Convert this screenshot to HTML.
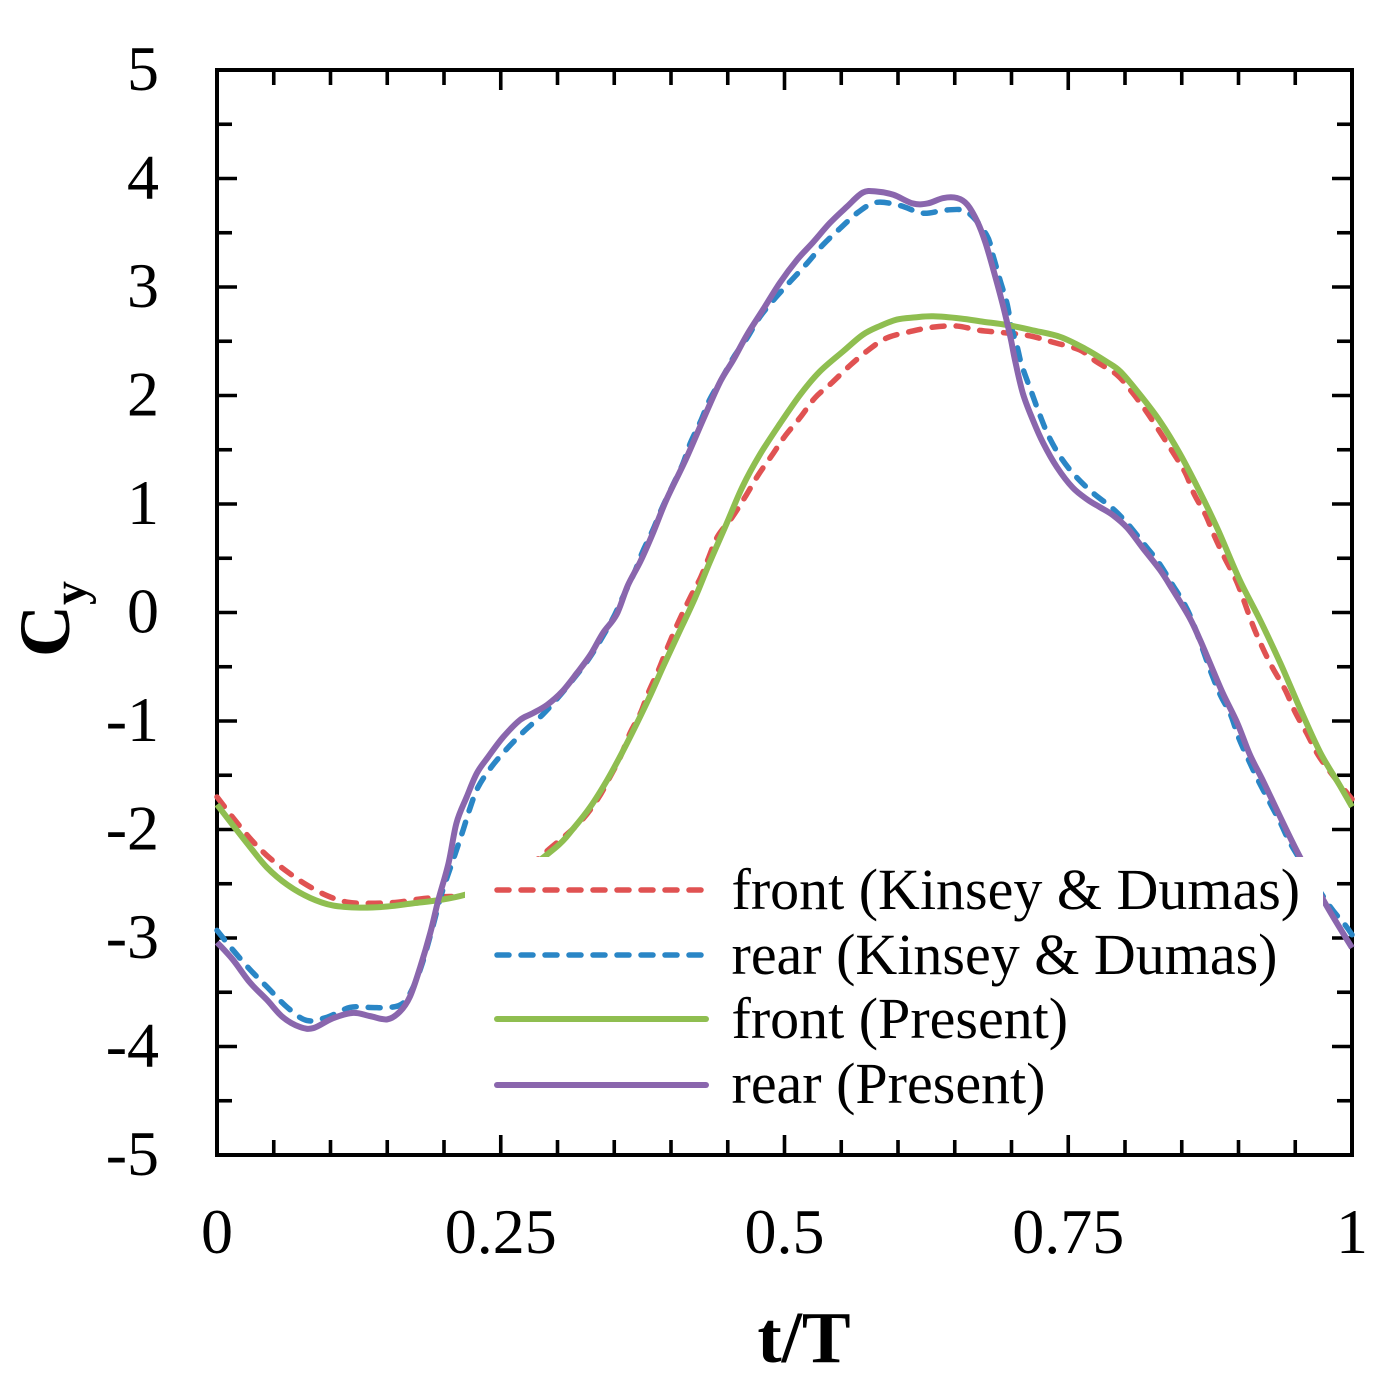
<!DOCTYPE html>
<html lang="en">
<head>
<meta charset="utf-8">
<title>Cy vs t/T</title>
<style>
html,body{margin:0;padding:0;background:#fff;width:1386px;height:1400px;overflow:hidden}
svg{display:block}
text{font-family:"Liberation Serif",serif;fill:#000}
</style>
</head>
<body>
<svg id="chart" width="1386" height="1400" viewBox="0 0 1386 1400" xmlns="http://www.w3.org/2000/svg">
  <g id="ticks"></g>
  <rect x="217" y="70" width="1135" height="1085" fill="none" stroke="#000" stroke-width="4"></rect>
  <g id="tick-labels"></g>
  <g id="series"></g>
  <rect x="465" y="857" width="858" height="268" fill="#fff"></rect>
  <g>
    <g>
      <line x1="497" y1="890" x2="706" y2="890" stroke="#e05252" stroke-width="5.5" stroke-linecap="round" stroke-dasharray="12 12"></line>
      <text x="731.5" y="909" font-size="58">front (Kinsey &amp; Dumas)</text>
    </g>
    <g>
      <line x1="497" y1="955" x2="706" y2="955" stroke="#2a86c6" stroke-width="5.5" stroke-linecap="round" stroke-dasharray="12 12"></line>
      <text x="731.5" y="974" font-size="58">rear (Kinsey &amp; Dumas)</text>
    </g>
    <g>
      <line x1="497" y1="1019" x2="706" y2="1019" stroke="#8fbe50" stroke-width="6" stroke-linecap="round"></line>
      <text x="731.5" y="1038" font-size="58">front (Present)</text>
    </g>
    <g>
      <line x1="497" y1="1085" x2="706" y2="1085" stroke="#8a66ad" stroke-width="6" stroke-linecap="round"></line>
      <text x="731.5" y="1103" font-size="58">rear (Present)</text>
    </g>
  </g>
  <text x="804" y="1362" font-size="73" font-weight="bold" text-anchor="middle">t/T</text>
  <g>
    <text transform="translate(69 657) rotate(-90)" font-size="72" font-weight="bold">C</text>
    <text transform="translate(86 605) rotate(-90)" font-size="48" font-weight="bold">y</text>
  </g>
</svg>
<script>
var xTickLabels = ["0", "0.25", "0.5", "0.75", "1"];
var xTickValues = [0, 0.25, 0.5, 0.75, 1];
var yTickLabels = ["5", "4", "3", "2", "1", "0", "-1", "-2", "-3", "-4", "-5"];
var yTickValues = [5, 4, 3, 2, 1, 0, -1, -2, -3, -4, -5];

var frontKinseyT = [0,.014,.029,.044,.062,.079,.097,.115,.135,.159,.179,.199,.219,.258,.295,.320,.336,.346,.355,.364,.373,.380,.389,.397,.406,.417,.426,.433,.441,.454,.465,.477,.489,.500,.514,.527,.542,.558,.574,.590,.611,.631,.652,.672,.692,.716,.737,.760,.775,.793,.807,.819,.831,.842,.853,.861,.871,.879,.888,.899,.912,.921,.930,.941,.950,.960,.970,.983,1];
var frontKinseyC = [-1.70,-1.89,-2.08,-2.24,-2.39,-2.51,-2.61,-2.67,-2.68,-2.67,-2.64,-2.62,-2.60,-2.47,-2.16,-1.93,-1.71,-1.52,-1.34,-1.11,-0.93,-0.74,-0.53,-0.32,-0.10,0.14,0.32,0.50,0.70,0.88,1.06,1.27,1.45,1.62,1.80,1.98,2.12,2.28,2.42,2.53,2.59,2.63,2.64,2.60,2.58,2.55,2.49,2.42,2.31,2.19,2.02,1.85,1.66,1.48,1.29,1.09,0.90,0.70,0.50,0.27,-0.10,-0.32,-0.51,-0.71,-0.92,-1.11,-1.31,-1.50,-1.72];

var rearKinseyT = [0,.014,.029,.044,.062,.079,.097,.117,.135,.152,.164,.173,.181,.190,.198,.210,.217,.223,.230,.242,.256,.271,.287,.300,.315,.330,.348,.357,.367,.375,.384,.392,.401,.410,.417,.426,.434,.445,.455,.467,.478,.492,.505,.520,.534,.549,.565,.581,.602,.622,.643,.661,.678,.684,.690,.696,.700,.705,.709,.718,.725,.733,.744,.757,.772,.789,.803,.816,.829,.841,.857,.875,.884,.893,.900,.908,.917,.928,.937,.948,.978,.994,1];
var rearKinseyC = [-2.93,-3.11,-3.29,-3.45,-3.64,-3.76,-3.73,-3.64,-3.64,-3.64,-3.60,-3.45,-3.23,-2.90,-2.59,-2.22,-2.00,-1.80,-1.61,-1.42,-1.25,-1.09,-0.94,-0.79,-0.60,-0.39,-0.07,0.13,0.35,0.56,0.76,0.96,1.16,1.36,1.56,1.76,1.96,2.16,2.35,2.53,2.72,2.90,3.05,3.22,3.39,3.54,3.69,3.78,3.75,3.68,3.71,3.69,3.48,3.28,3.06,2.85,2.63,2.45,2.28,2.02,1.82,1.62,1.42,1.25,1.10,0.96,0.81,0.64,0.47,0.27,-0.02,-0.53,-0.76,-0.94,-1.15,-1.34,-1.54,-1.76,-1.94,-2.17,-2.67,-2.88,-2.97];

var frontPresentT = [0,.014,.029,.044,.062,.082,.102,.126,.150,.173,.196,.219,.258,.298,.314,.329,.344,.357,.370,.381,.393,.405,.421,.434,.449,.463,.478,.496,.514,.531,.552,.569,.584,.599,.615,.631,.655,.675,.696,.719,.743,.765,.784,.796,.813,.831,.848,.866,.882,.901,.919,.937,.954,.972,.989,1];
var frontPresentC = [-1.77,-1.96,-2.16,-2.35,-2.51,-2.63,-2.70,-2.72,-2.71,-2.68,-2.65,-2.60,-2.47,-2.17,-1.99,-1.79,-1.54,-1.29,-1.02,-0.78,-0.50,-0.23,0.13,0.46,0.82,1.16,1.45,1.74,2.01,2.22,2.41,2.56,2.64,2.70,2.72,2.73,2.71,2.68,2.65,2.60,2.54,2.43,2.31,2.22,2.01,1.76,1.47,1.11,0.76,0.30,-0.07,-0.47,-0.88,-1.29,-1.59,-1.79];

var rearPresentT = [0,.014,.029,.044,.058,.073,.085,.102,.120,.135,.150,.161,.170,.179,.188,.195,.204,.211,.220,.229,.239,.252,.267,.278,.291,.304,.317,.329,.340,.352,.362,.373,.384,.396,.413,.428,.443,.455,.467,.481,.496,.511,.525,.540,.555,.569,.581,.596,.613,.626,.640,.652,.661,.670,.677,.684,.692,.699,.703,.710,.719,.728,.740,.754,.767,.778,.789,.802,.816,.831,.842,.857,.866,.875,.886,.899,.910,.922,.937,.954,.978,1];
var rearPresentC = [-3.04,-3.20,-3.41,-3.57,-3.73,-3.82,-3.83,-3.74,-3.69,-3.72,-3.75,-3.68,-3.54,-3.27,-2.95,-2.65,-2.31,-1.94,-1.70,-1.48,-1.33,-1.15,-0.99,-0.93,-0.85,-0.73,-0.56,-0.39,-0.19,-0.02,0.25,0.47,0.73,1.04,1.41,1.77,2.12,2.33,2.56,2.79,3.04,3.25,3.41,3.59,3.74,3.87,3.88,3.85,3.77,3.77,3.82,3.82,3.76,3.60,3.41,3.16,2.85,2.54,2.33,2.02,1.77,1.56,1.34,1.15,1.04,0.97,0.90,0.78,0.59,0.39,0.21,-0.05,-0.25,-0.47,-0.74,-1.02,-1.31,-1.56,-1.89,-2.25,-2.71,-3.09];

var NS = "http://www.w3.org/2000/svg";
var PLOT_LEFT = 217, PLOT_RIGHT = 1352, PLOT_TOP = 70, PLOT_BOTTOM = 1155;
function xScale(t) { return PLOT_LEFT + (PLOT_RIGHT - PLOT_LEFT) * t; }
function yScale(c) { return PLOT_TOP + (PLOT_BOTTOM - PLOT_TOP) * (5 - c) / 10; }

function smoothPath(ts, cs) {
  var p = ts.map(function (t, i) { return [xScale(t), yScale(cs[i])]; });
  var d = "M" + p[0][0].toFixed(2) + " " + p[0][1].toFixed(2);
  for (var i = 0; i < p.length - 1; i++) {
    var a = p[Math.max(i - 1, 0)], b = p[i], c = p[i + 1], e = p[Math.min(i + 2, p.length - 1)];
    var c1x = b[0] + (c[0] - a[0]) / 6, c1y = b[1] + (c[1] - a[1]) / 6;
    var c2x = c[0] - (e[0] - b[0]) / 6, c2y = c[1] - (e[1] - b[1]) / 6;
    d += "C" + c1x.toFixed(2) + " " + c1y.toFixed(2) + " " + c2x.toFixed(2) + " " + c2y.toFixed(2) + " " + c[0].toFixed(2) + " " + c[1].toFixed(2);
  }
  return d;
}

var ticksGroup = document.getElementById("ticks");
var labelsGroup = document.getElementById("tick-labels");
var seriesGroup = document.getElementById("series");

function addTick(x1, y1, x2, y2) {
  var l = document.createElementNS(NS, "line");
  l.setAttribute("x1", x1);
  l.setAttribute("y1", y1);
  l.setAttribute("x2", x2);
  l.setAttribute("y2", y2);
  l.setAttribute("stroke", "#000");
  l.setAttribute("stroke-width", "3.6");
  
  
  ticksGroup.appendChild(l);
}

for (var i = 0; i <= 20; i++) {
  var tx = xScale(i / 20);
  var lenX = (i % 5 === 0) ? 20 : 15;
  addTick(tx, PLOT_BOTTOM, tx, PLOT_BOTTOM - lenX);
  addTick(tx, PLOT_TOP, tx, PLOT_TOP + lenX);
  var ty = yScale(-5 + i / 2);
  var lenY = (i % 2 === 0) ? 20 : 15;
  addTick(PLOT_LEFT, ty, PLOT_LEFT + lenY, ty);
  addTick(PLOT_RIGHT, ty, PLOT_RIGHT - lenY, ty);
}

xTickValues.forEach(function (v, i) {
  var t = document.createElementNS(NS, "text");
  t.setAttribute("x", xScale(v));
  t.setAttribute("y", 1253);
  t.setAttribute("font-size", "64");
  t.setAttribute("text-anchor", "middle");
  
  
  t.textContent = xTickLabels[i];
  labelsGroup.appendChild(t);
});

yTickValues.forEach(function (v, i) {
  var t = document.createElementNS(NS, "text");
  t.setAttribute("x", 159);
  t.setAttribute("y", yScale(v) + 20);
  t.setAttribute("font-size", "64");
  t.setAttribute("text-anchor", "end");
  
  
  t.textContent = yTickLabels[i];
  labelsGroup.appendChild(t);
});

function addSeries(ts, cs, color, width, dash, name) {
  var path = document.createElementNS(NS, "path");
  path.setAttribute("d", smoothPath(ts, cs));
  path.setAttribute("fill", "none");
  path.setAttribute("stroke", color);
  path.setAttribute("stroke-width", width);
  path.setAttribute("stroke-linejoin", "round");
  if (dash) {
    path.setAttribute("stroke-dasharray", dash);
    path.setAttribute("stroke-linecap", "round");
  }
  
  
  seriesGroup.appendChild(path);
}

addSeries(frontKinseyT, frontKinseyC, "#e05252", 5.5, "12 12", "line-front-kinsey");
addSeries(rearKinseyT, rearKinseyC, "#2a86c6", 5.5, "12 12", "line-rear-kinsey");
addSeries(frontPresentT, frontPresentC, "#8fbe50", 6, null, "line-front-present");
addSeries(rearPresentT, rearPresentC, "#8a66ad", 6, null, "line-rear-present");
</script>
</body>
</html>
